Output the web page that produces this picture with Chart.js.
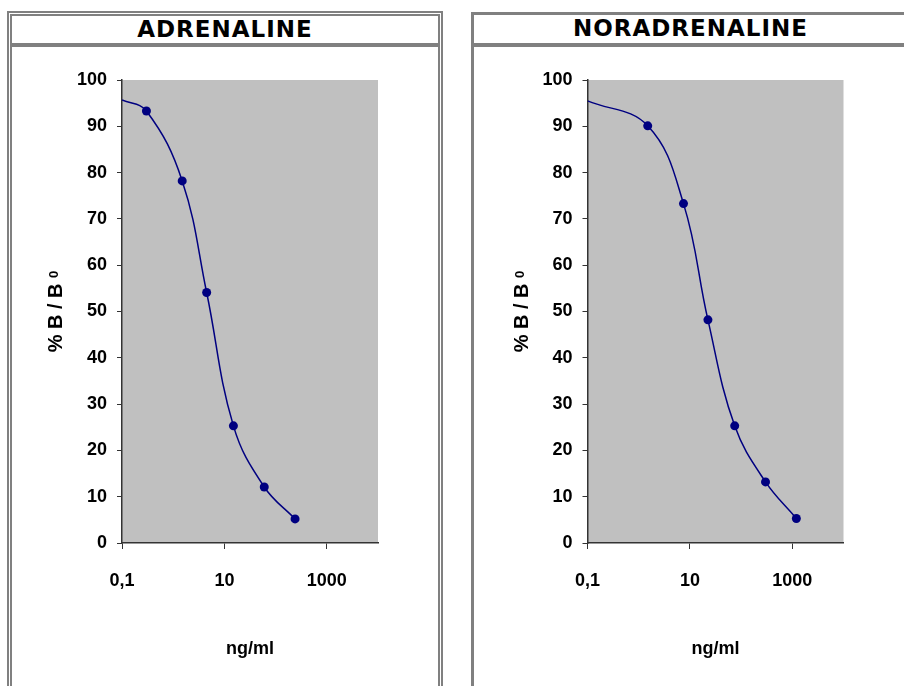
<!DOCTYPE html>
<html>
<head>
<meta charset="utf-8">
<title>Adrenaline / Noradrenaline standard curves</title>
<script src="https://cdn.jsdelivr.net/npm/chart.js@4.4.0/dist/chart.umd.min.js"></script>
<style>
  html, body {
    margin: 0;
    padding: 0;
    width: 904px;
    height: 686px;
    overflow: hidden;
    background: #ffffff;
    position: relative;
  }
  .panel {
    position: absolute;
    box-sizing: border-box;
    height: 720px;
  }
  .panel--left {
    left: 7px;
    top: 11px;
    width: 436px;
    border: 5px double #808080;
    border-bottom: none;
  }
  .panel--right {
    left: 471px;
    top: 12px;
    width: 436px;
    border-left: 3px solid #808080;
    border-top: 3px solid #808080;
  }
  .panel__title {
    box-sizing: border-box;
    height: 32px;
    line-height: 28px;
    border-bottom: 4px solid #808080;
    text-align: center;
    font: bold 23px "DejaVu Sans", Verdana, sans-serif;
    letter-spacing: 1px;
    color: #000000;
  }
  .panel--left .panel__title {
    height: 31px;
    line-height: 27px;
  }
  .panel canvas {
    display: block;
  }
</style>
</head>
<body>
  <div class="panel panel--left">
    <div class="panel__title">ADRENALINE</div>
    <canvas id="adrenaline" width="426" height="639"></canvas>
  </div>
  <div class="panel panel--right">
    <div class="panel__title">NORADRENALINE</div>
    <canvas id="noradrenaline" width="433" height="639"></canvas>
  </div>

<script>
// standards (ng/ml -> % B/B0)
const adrenalineDoses = [0.1, 0.3, 1.5, 4.5, 15, 60, 240];
const adrenalineBinding = [95.7, 93.3, 78.2, 54.1, 25.3, 12.1, 5.2];

const noradrenalineDoses = [0.1, 1.5, 7.5, 22.5, 75, 300, 1200];
const noradrenalineBinding = [95.5, 90.1, 73.3, 48.2, 25.3, 13.2, 5.3];

const doseTicks = [0.1, 10, 1000];
const doseRange = [0.1, 10000];
const bindingRange = [0, 100];
const bindingStep = 10;

const FONT_FAMILY = `"Liberation Sans", Arial, sans-serif`;
const TICK_FONT = {family: FONT_FAMILY, size: 18, weight: `bold`};
const CURVE_COLOR = `#000080`;
const PLOT_COLOR = `#c0c0c0`;
const AXIS_COLOR = `#333333`;

const formatDose = (value) => String(value).replace(`.`, `,`);

const plotBackground = {
  id: `plotBackground`,
  beforeDraw: (chart) => {
    const {ctx, chartArea: {left, top, width, height}} = chart;
    ctx.save();
    ctx.fillStyle = PLOT_COLOR;
    ctx.fillRect(left, top, width, height);
    ctx.restore();
  }
};

// "% B / B0" with the small zero, rotated like the excel axis title
const bindingTitle = {
  id: `bindingTitle`,
  afterDraw: (chart) => {
    const {ctx, chartArea} = chart;
    const main = `% B / B `;
    const bigFont = `bold 20px ${FONT_FAMILY}`;
    const smallFont = `bold 13px ${FONT_FAMILY}`;

    ctx.save();
    ctx.translate(chartArea.left - 65.5, (chartArea.top + chartArea.bottom) / 2);
    ctx.rotate(-Math.PI / 2);
    ctx.fillStyle = `#000000`;
    ctx.textBaseline = `middle`;
    ctx.textAlign = `left`;

    ctx.font = bigFont;
    const mainWidth = ctx.measureText(main).width;
    ctx.font = smallFont;
    const subWidth = ctx.measureText(`0`).width;
    const start = -(mainWidth + subWidth) / 2;

    ctx.font = bigFont;
    ctx.fillText(main, start, 0);
    ctx.font = smallFont;
    ctx.fillText(`0`, start + mainWidth, -2);
    ctx.restore();
  }
};

const renderDoseChart = (canvas, doses, binding, axisWidth, rightGap) => {
  return new Chart(canvas, {
    type: `scatter`,
    data: {
      datasets: [{
        data: doses.map((dose, i) => ({x: dose, y: binding[i]})),
        showLine: true,
        borderColor: CURVE_COLOR,
        borderWidth: 1.5,
        backgroundColor: CURVE_COLOR,
        pointBorderColor: CURVE_COLOR,
        pointBorderWidth: 0,
        pointRadius: doses.map((dose, i) => (i === 0 ? 0 : 4.5)),
        tension: 0.4
      }]
    },
    options: {
      responsive: false,
      animation: false,
      events: [],
      layout: {
        padding: {top: 33, right: rightGap, left: 0, bottom: 0}
      },
      plugins: {
        legend: {display: false},
        tooltip: {enabled: false}
      },
      scales: {
        x: {
          type: `logarithmic`,
          min: doseRange[0],
          max: doseRange[1],
          bounds: `data`,
          afterBuildTicks: (scale) => {
            scale.ticks = doseTicks.map((value) => ({value}));
          },
          afterFit: (scale) => {
            scale.height = 143;
          },
          grid: {drawOnChartArea: false, tickLength: 6, color: AXIS_COLOR},
          border: {color: AXIS_COLOR, width: 1.5},
          ticks: {
            font: TICK_FONT,
            color: `#000000`,
            padding: 21,
            maxRotation: 0,
            autoSkip: false,
            callback: (value) => formatDose(value)
          },
          title: {
            display: true,
            text: `ng/ml`,
            font: TICK_FONT,
            color: `#000000`,
            padding: {top: 0, bottom: 26}
          }
        },
        y: {
          min: bindingRange[0],
          max: bindingRange[1],
          afterFit: (scale) => {
            scale.width = axisWidth;
          },
          grid: {drawOnChartArea: false, tickLength: 5, color: AXIS_COLOR},
          border: {color: AXIS_COLOR, width: 1.5},
          ticks: {
            stepSize: bindingStep,
            font: TICK_FONT,
            color: `#000000`,
            padding: 10
          }
        }
      }
    },
    plugins: [plotBackground, bindingTitle]
  });
};

renderDoseChart(document.getElementById(`adrenaline`), adrenalineDoses, adrenalineBinding, 110, 60);
renderDoseChart(document.getElementById(`noradrenaline`), noradrenalineDoses, noradrenalineBinding, 113.5, 63.5);
</script>
</body>
</html>
